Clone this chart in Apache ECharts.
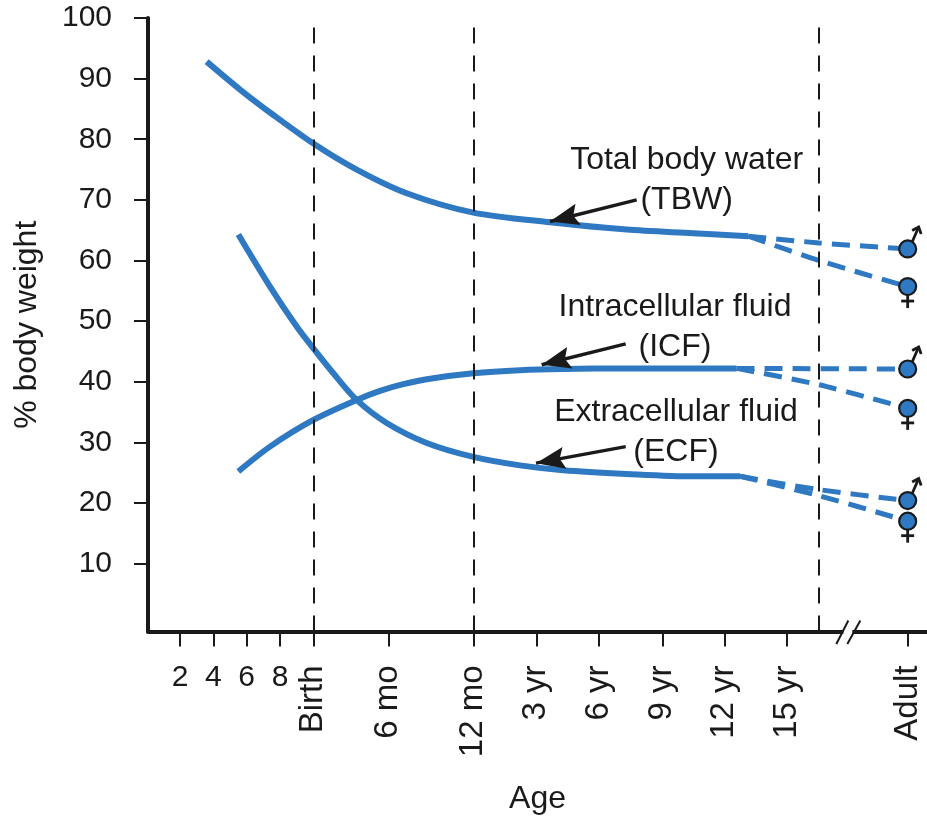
<!DOCTYPE html>
<html>
<head>
<meta charset="utf-8">
<script src="https://cdn.jsdelivr.net/npm/echarts@6/dist/echarts.min.js"></script>
<style>
html,body{margin:0;padding:0;background:#fff;}
#chart{width:927px;height:819px;}
</style>
</head>
<body>
<div id="chart"></div>
<script>
// ---- Axis ticks (age scale positions) ----
const AGE_TICKS  = [2, 4, 6, 8, 10, 14.5, 19.6, 23.38, 27.14, 30.94, 34.66, 38.4, 45.66];
const AGE_LABELS = ['2', '4', '6', '8', 'Birth', '6 mo', '12 mo', '3 yr', '6 yr', '9 yr', '12 yr', '15 yr', 'Adult'];
const UPRIGHT_TICKS = [2, 4, 6, 8];
const Y_TICKS = [10, 20, 30, 40, 50, 60, 70, 80, 90, 100];
const REF_LINES = [10, 19.6, 40.34];
const BREAK_AT = 42.1;
const ADULT = 45.66;

// ---- Total body water ----
const tbwAge = [3.6, 5.6, 7.6, 10, 12.6, 15.6, 19.6, 24.2, 28.8, 32.8, 36.1];
const tbwVal = [92.8, 88.2, 84.0, 79.3, 75.0, 71.1, 67.9, 66.3, 65.1, 64.5, 64.0];
const tbwMaleAge = [36.1, 40.34, ADULT];
const tbwMaleVal = [64.0, 62.9, 61.9];
const tbwFemaleAge = [36.1, 40.34, ADULT];
const tbwFemaleVal = [64.0, 60.0, 55.7];

// ---- Intracellular fluid ----
const icfAge = [5.5, 7.4, 10, 12.6, 14.0, 15.4, 17.0, 19.6, 22.4, 25, 28.8, 32.8, 35.4];
const icfVal = [25.2, 29.3, 33.7, 37.0, 38.5, 39.6, 40.5, 41.4, 41.9, 42.1, 42.2, 42.2, 42.2];
const icfMaleAge = [35.4, ADULT];
const icfMaleVal = [42.2, 42.1];
const icfFemaleAge = [35.4, 40.34, ADULT];
const icfFemaleVal = [42.2, 39.5, 35.6];

// ---- Extracellular fluid ----
const ecfAge = [5.5, 7.4, 9.0, 10, 11.2, 12.6, 14.4, 16.8, 19.6, 22.4, 25, 28.8, 32.8, 35.6];
const ecfVal = [64.3, 55.7, 49.1, 45.5, 41.4, 37.0, 33.2, 29.9, 27.6, 26.2, 25.4, 24.8, 24.4, 24.4];
const ecfMaleAge = [35.6, 40.34, ADULT];
const ecfMaleVal = [24.4, 22.2, 20.4];
const ecfFemaleAge = [35.6, 40.34, ADULT];
const ecfFemaleVal = [24.4, 21.2, 17.0];

// ---- Adult end points ----
const maleAdult = [61.9, 42.1, 20.4];
const femaleAdult = [55.7, 35.6, 17.0];

// ---- Annotations ----
const noteText = ['Total body water\n(TBW)', 'Intracellular fluid\n(ICF)', 'Extracellular fluid\n(ECF)'];
const notePos = [[32.4, 73.3], [31.7, 49.0], [31.76, 31.6]];
const arrowFrom = [[29.4, 70.0], [28.74, 46.25], [28.74, 29.3]];
const arrowTip = [[24.2, 66.44], [23.7, 42.79], [23.36, 26.57]];

const BLUE = '#2f78c2';
const INK = '#1a1a1a';
const FONT = 'Liberation Sans, Arial, Helvetica, sans-serif';

function zip(a, b) { return a.map((x, i) => [x, b[i]]); }
function labelFor(v) {
  const i = AGE_TICKS.findIndex(t => Math.abs(t - v) < 1e-6);
  return i >= 0 ? AGE_LABELS[i] : '';
}

const solid = (data) => ({
  type: 'line', data, smooth: 0.3, showSymbol: false, silent: true, z: 3,
  lineStyle: { color: BLUE, width: 6, cap: 'butt' }
});
const dashed = (data) => ({
  type: 'line', data, smooth: 0.3, showSymbol: false, silent: true, z: 3,
  lineStyle: { color: BLUE, width: 5, type: [18, 10] }
});

const chart = echarts.init(document.getElementById('chart'));
const option = {
  backgroundColor: '#fff',
  animation: false,
  grid: { left: 148, right: 0, top: 18, bottom: 187.5, containLabel: false, outerBoundsMode: 'none' },
  xAxis: [{
    type: 'value', min: 0.08, max: 46.82,
    name: 'Age', nameLocation: 'middle', nameGap: 152, nameMoveOverlap: false,
    nameTextStyle: { fontSize: 32, color: INK, fontFamily: FONT },
    axisLine: { show: true, onZero: false, lineStyle: { color: INK, width: 4 } },
    axisTick: { show: true, inside: false, length: 15, customValues: AGE_TICKS, lineStyle: { color: INK, width: 2 } },
    axisLabel: {
      show: true, rotate: 90, margin: 34, fontSize: 33, color: INK, fontFamily: FONT,
      customValues: AGE_TICKS.filter(v => UPRIGHT_TICKS.indexOf(v) < 0),
      formatter: v => labelFor(v)
    },
    splitLine: { show: false }
  }, {
    type: 'value', min: 0.08, max: 46.82, position: 'bottom',
    axisLine: { show: false, onZero: false },
    axisTick: { show: false },
    axisLabel: {
      show: true, margin: 31, fontSize: 30, color: INK, fontFamily: FONT,
      customValues: UPRIGHT_TICKS, formatter: v => labelFor(v)
    },
    splitLine: { show: false }
  }],
  yAxis: {
    type: 'value', min: -1.2, max: 100,
    name: '% body weight', nameLocation: 'middle', nameGap: 105, nameRotate: 90, nameMoveOverlap: false,
    nameTextStyle: { fontSize: 32, color: INK, fontFamily: FONT },
    axisLine: { show: true, onZero: false, lineStyle: { color: INK, width: 4 } },
    axisTick: { show: true, inside: false, length: 14, customValues: Y_TICKS, lineStyle: { color: INK, width: 2 } },
    axisLabel: { show: true, margin: 36, fontSize: 30, color: INK, fontFamily: FONT, customValues: Y_TICKS },
    splitLine: { show: false }
  },
  series: [
    {
      type: 'line', data: [], silent: true, z: 1,
      markLine: {
        silent: true, symbol: ['none', 'none'], animation: false,
        label: { show: false },
        lineStyle: { color: INK, width: 2, type: [16, 12] },
        data: REF_LINES.map(v => ({ xAxis: v }))
      }
    },
    solid(zip(tbwAge, tbwVal)),
    solid(zip(icfAge, icfVal)),
    solid(zip(ecfAge, ecfVal)),
    dashed(zip(tbwMaleAge, tbwMaleVal)),
    dashed(zip(tbwFemaleAge, tbwFemaleVal)),
    dashed(zip(icfMaleAge, icfMaleVal)),
    dashed(zip(icfFemaleAge, icfFemaleVal)),
    dashed(zip(ecfMaleAge, ecfMaleVal)),
    dashed(zip(ecfFemaleAge, ecfFemaleVal)),
    // circles
    {
      type: 'scatter', silent: true, z: 5,
      data: maleAdult.concat(femaleAdult).map(v => [ADULT, v]),
      symbol: 'circle', symbolSize: 17,
      itemStyle: { color: BLUE, borderColor: INK, borderWidth: 2.2, opacity: 1 }
    },
    // annotations
    {
      type: 'scatter', silent: true, z: 6,
      data: notePos.map((p, i) => ({ value: p, name: noteText[i] })),
      symbolSize: 1, itemStyle: { color: 'rgba(0,0,0,0)', opacity: 1 },
      label: {
        show: true, position: 'inside', formatter: p => p.name, opacity: 1,
        fontSize: 32, lineHeight: 40, color: INK, fontFamily: FONT, align: 'center', verticalAlign: 'middle'
      },
      markLine: {
        silent: true, animation: false,
        symbol: ['none', 'none'],
        label: { show: false },
        lineStyle: { color: INK, width: 3.5, type: 'solid', opacity: 1 },
        data: arrowFrom.map((f, i) => [{ coord: f }, { coord: arrowTip[i] }])
      }
    }
  ]
};
chart.setOption(option);

// ---- decorations positioned through the chart's own scales ----
const toPx = p => chart.convertToPixel({ xAxisIndex: 0, yAxisIndex: 0 }, p);
const graphics = [];

// arrowheads
const HEAD_LEN = 29, HEAD_W = 22, NOTCH = 5;
arrowFrom.forEach((f, i) => {
  const a = toPx(f), b = toPx(arrowTip[i]);
  const dx = b[0] - a[0], dy = b[1] - a[1];
  const len = Math.hypot(dx, dy);
  const ux = dx / len, uy = dy / len, nx = -uy, ny = ux;
  const back = [b[0] - ux * HEAD_LEN, b[1] - uy * HEAD_LEN];
  const notch = [b[0] - ux * (HEAD_LEN - NOTCH), b[1] - uy * (HEAD_LEN - NOTCH)];
  graphics.push({
    type: 'polygon', z: 110,
    shape: { points: [b, [back[0] + nx * HEAD_W / 2, back[1] + ny * HEAD_W / 2], notch, [back[0] - nx * HEAD_W / 2, back[1] - ny * HEAD_W / 2]] },
    style: { fill: INK }
  });
});

// male glyphs (arrow up-right of circle)
maleAdult.forEach(v => {
  const c = toPx([ADULT, v]);
  graphics.push({
    type: 'polyline', z: 104, shape: { points: [[c[0] + 4.5, c[1] - 7], [c[0] + 11, c[1] - 22]] },
    style: { stroke: INK, lineWidth: 2.8, fill: null }
  });
  graphics.push({
    type: 'polyline', z: 104, shape: { points: [[c[0] + 4.5, c[1] - 18.5], [c[0] + 11, c[1] - 22], [c[0] + 13.5, c[1] - 15]] },
    style: { stroke: INK, lineWidth: 2.8, fill: null }
  });
});
// female glyphs (cross under circle)
femaleAdult.forEach(v => {
  const c = toPx([ADULT, v]);
  graphics.push({
    type: 'polyline', z: 104, shape: { points: [[c[0], c[1] + 8], [c[0], c[1] + 21.5]] },
    style: { stroke: INK, lineWidth: 2.8, fill: null }
  });
  graphics.push({
    type: 'polyline', z: 104, shape: { points: [[c[0] - 6.5, c[1] + 14.5], [c[0] + 6.5, c[1] + 14.5]] },
    style: { stroke: INK, lineWidth: 2.8, fill: null }
  });
});

// axis break marker "//"
const bp = toPx([BREAK_AT, -1.2]);
graphics.push(
  { type: 'rect', z: 100, shape: { x: bp[0] - 5, y: bp[1] - 4, width: 9, height: 8 }, style: { fill: '#fff' } },
  { type: 'line', z: 101, shape: { x1: bp[0] - 12, y1: bp[1] + 12.5, x2: bp[0], y2: bp[1] - 11 }, style: { stroke: INK, lineWidth: 2 } },
  { type: 'line', z: 101, shape: { x1: bp[0] - 1, y1: bp[1] + 12.5, x2: bp[0] + 12, y2: bp[1] - 11 }, style: { stroke: INK, lineWidth: 2 } }
);

chart.setOption({ graphic: graphics });
</script>
</body>
</html>
